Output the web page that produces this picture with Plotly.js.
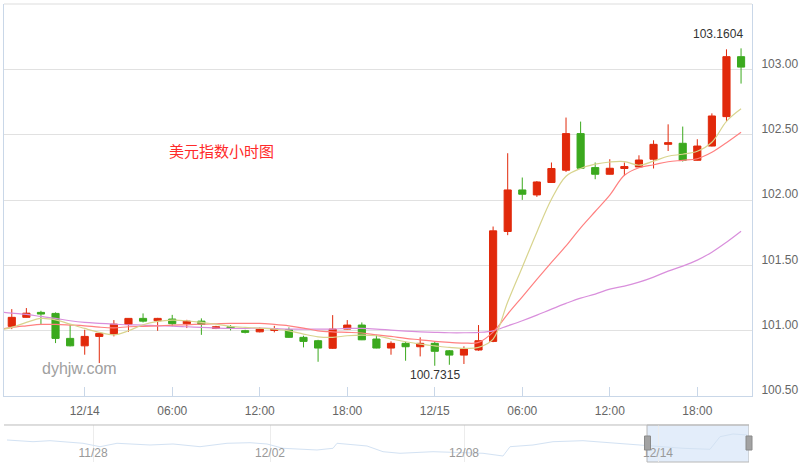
<!DOCTYPE html>
<html>
<head>
<meta charset="utf-8">
<script src="https://cdn.plot.ly/plotly-3.0.1.min.js"></script>
<style>
html,body{margin:0;padding:0;background:#fff;}
#chart{width:800px;height:466px;}
</style>
</head>
<body>
<div id="chart"></div>
<script>
// hourly timestamps (first one only feeds the moving-average lines at the left edge)
const times = [
 '2016-12-13 18:00','2016-12-13 19:00','2016-12-13 20:00','2016-12-13 21:00','2016-12-13 22:00','2016-12-13 23:00',
 '2016-12-14 00:00','2016-12-14 01:00','2016-12-14 02:00','2016-12-14 03:00','2016-12-14 04:00','2016-12-14 05:00',
 '2016-12-14 06:00','2016-12-14 07:00','2016-12-14 08:00','2016-12-14 09:00','2016-12-14 10:00','2016-12-14 11:00',
 '2016-12-14 12:00','2016-12-14 13:00','2016-12-14 14:00','2016-12-14 15:00','2016-12-14 16:00','2016-12-14 17:00',
 '2016-12-14 18:00','2016-12-14 19:00','2016-12-14 20:00','2016-12-14 21:00','2016-12-14 22:00','2016-12-14 23:00',
 '2016-12-15 00:00','2016-12-15 01:00','2016-12-15 02:00','2016-12-15 03:00','2016-12-15 04:00','2016-12-15 05:00',
 '2016-12-15 06:00','2016-12-15 07:00','2016-12-15 08:00','2016-12-15 09:00','2016-12-15 10:00','2016-12-15 11:00',
 '2016-12-15 12:00','2016-12-15 13:00','2016-12-15 14:00','2016-12-15 15:00','2016-12-15 16:00','2016-12-15 17:00',
 '2016-12-15 18:00','2016-12-15 19:00','2016-12-15 20:00','2016-12-15 21:00'
];
const candleTimes = times.slice(1);

const openV = [101.033,101.102,101.140,101.132,100.941,100.884,100.956,100.974,101.048,101.094,101.076,101.089,101.053,101.073,101.017,101.030,101.000,100.991,101.002,101.007,100.949,100.923,100.865,101.012,101.043,100.936,100.867,100.903,100.877,100.903,100.846,100.813,100.852,100.918,101.759,102.077,102.039,102.134,102.228,102.508,102.248,102.197,102.241,102.253,102.312,102.426,102.434,102.304,102.413,102.638,103.097];
const highV = [101.165,101.173,101.152,101.140,101.050,101.007,100.982,101.081,101.096,101.132,101.098,101.121,101.083,101.094,101.037,101.043,101.007,101.025,101.037,101.025,100.961,100.930,101.119,101.081,101.063,100.968,100.918,100.915,100.949,100.918,100.852,100.880,101.043,101.797,102.358,102.172,102.145,102.287,102.631,102.600,102.287,102.312,102.287,102.342,102.457,102.579,102.562,102.465,102.663,103.153,103.1604];
const lowV = [101.012,101.100,101.043,100.905,100.880,100.816,100.752,100.956,100.991,101.063,100.999,101.033,101.020,100.968,101.012,101.002,100.979,100.987,100.987,100.945,100.872,100.762,100.860,101.010,100.928,100.865,100.816,100.770,100.803,100.7315,100.739,100.745,100.846,100.912,101.731,102.001,102.024,102.130,102.215,102.240,102.159,102.195,102.184,102.250,102.241,102.375,102.294,102.302,102.410,102.605,102.891];
const closeV = [101.102,101.134,101.127,100.941,100.884,100.956,100.979,101.050,101.094,101.073,101.094,101.053,101.073,101.048,101.030,101.017,100.987,101.012,101.012,100.949,100.918,100.867,101.012,101.043,100.930,100.867,100.903,100.877,100.903,100.842,100.813,100.859,100.923,101.764,102.077,102.044,102.138,102.241,102.508,102.243,102.197,102.243,102.256,102.306,102.426,102.439,102.304,102.413,102.643,103.097,103.017];

// moving-average lines
const maYellow = [101.001,101.025,101.063,101.094,101.083,101.050,101.017,100.987,100.968,100.999,101.045,101.071,101.081,101.076,101.063,101.050,101.033,101.025,101.020,101.012,100.999,100.974,100.953,100.949,100.961,100.966,100.961,100.936,100.915,100.897,100.884,100.872,100.865,100.872,100.936,101.219,101.486,101.754,102.006,102.182,102.241,102.274,102.291,102.294,102.266,102.297,102.335,102.350,102.373,102.442,102.602,102.698];
const maRed = [101.008,101.025,101.037,101.048,101.048,101.043,101.037,101.027,101.022,101.030,101.033,101.037,101.043,101.045,101.050,101.053,101.056,101.056,101.056,101.048,101.037,101.020,100.999,100.991,100.987,100.982,100.968,100.956,100.941,100.930,100.918,100.910,100.905,100.910,100.989,101.127,101.259,101.392,101.522,101.649,101.787,101.912,102.037,102.189,102.247,102.270,102.293,102.304,102.316,102.365,102.438,102.518];
const maPurple = [101.146,101.134,101.124,101.109,101.094,101.076,101.063,101.056,101.050,101.045,101.043,101.037,101.035,101.030,101.025,101.020,101.017,101.017,101.020,101.016,101.012,101.012,101.012,101.012,101.017,101.017,101.012,101.004,100.997,100.991,100.987,100.984,100.984,100.987,100.999,101.037,101.076,101.119,101.165,101.209,101.249,101.280,101.318,101.341,101.371,101.410,101.456,101.494,101.540,101.601,101.677,101.761];

// tick labels
const xTickVals = ['2016-12-14 00:00','2016-12-14 06:00','2016-12-14 12:00','2016-12-14 18:00','2016-12-15 00:00','2016-12-15 06:00','2016-12-15 12:00','2016-12-15 18:00'];
const xTickText = ['12/14','06:00','12:00','18:00','12/15','06:00','12:00','18:00'];
const yTickVals = [100.5,101.0,101.5,102.0,102.5,103.0];

// navigator (trading-hour index) series
const navHours = [1.5,14.5,23,39.5,48,56.5,73,84.5,98,111.5,123,131.5,139.5,156.5,164.5,166.5,181.5,189.5,198,214.5,239.5,249.5,253,264.5,274.5,289.5,306.5,323,339.5,353,358,364.5,371.5];
const navValues = [102.26,102.005,102.155,101.765,101.255,101.765,101.51,101.66,101.255,101.765,101.855,101.66,101.015,100.76,101.015,101.765,101.36,100.505,100.265,100.505,100.265,99.86,101.255,101.51,102.005,102.155,101.765,101.36,101.015,100.865,102.755,103.16,103.01];
const navTickVals = [44.5,133,230,327];
const navTickText = ['11/28','12/02','12/08','12/14'];
const navSelection = [321.5,372.5];

const font = 'Liberation Sans, Arial, sans-serif';

let iMax = 0, iMin = 0;
highV.forEach((v,i)=>{ if (v > highV[iMax]) iMax = i; });
lowV.forEach((v,i)=>{ if (v < lowV[iMin]) iMin = i; });

const traces = [
  {type:'scatter', mode:'lines', x:times, y:maPurple, line:{color:'#d98fdc', width:1.2, shape:'spline'}, hoverinfo:'skip'},
  {type:'scatter', mode:'lines', x:times, y:maRed, line:{color:'#ff8080', width:1.2, shape:'spline'}, hoverinfo:'skip'},
  {type:'scatter', mode:'lines', x:times, y:maYellow, line:{color:'#d8d48e', width:1.2, shape:'spline'}, hoverinfo:'skip'},
  {type:'candlestick', x:candleTimes, open:openV, high:highV, low:lowV, close:closeV,
   increasing:{line:{color:'#e1290b', width:1}, fillcolor:'#e1290b'},
   decreasing:{line:{color:'#3ba91e', width:1}, fillcolor:'#3ba91e'},
   whiskerwidth:0, hoverinfo:'skip'},
  {type:'scatter', mode:'lines', x:navHours, y:navValues, xaxis:'x2', yaxis:'y2',
   line:{color:'#d3e2f3', width:1}, hoverinfo:'skip'}
];

const layout = {
  width:800, height:466,
  margin:{l:4, r:48, t:4, b:4},
  paper_bgcolor:'#ffffff', plot_bgcolor:'#ffffff',
  showlegend:false,
  font:{family:font, size:12, color:'#666'},
  xaxis:{
    type:'date', domain:[0,1], anchor:'y',
    range:['2016-12-13 18:28','2016-12-15 21:45'],
    rangeslider:{visible:false},
    tickmode:'array', tickvals:xTickVals, ticktext:xTickText,
    ticks:'inside', ticklen:9, tickcolor:'#c9d7e8', tickwidth:1,
    showline:true, linecolor:'#c9d7e8', linewidth:1,
    showgrid:false, zeroline:false,
    tickfont:{family:font, size:12, color:'#666'},
    ticklabelstandoff:4
  },
  yaxis:{
    domain:[0.1441,1], anchor:'x', side:'right',
    range:[100.5,103.5],
    tickmode:'array', tickvals:yTickVals, tickformat:'.2f',
    ticks:'', showline:true, mirror:true, linecolor:'#c9d7e8', linewidth:1,
    showgrid:true, gridcolor:'#e1e1e1', gridwidth:1, zeroline:false,
    tickfont:{family:font, size:12, color:'#666'},
    ticklabelstandoff:6, ticklabelshift:-6
  },
  xaxis2:{
    domain:[0,0.996], anchor:'y2', range:[0,372.5],
    tickmode:'array', tickvals:navTickVals, ticktext:navTickText,
    ticks:'', ticklabelposition:'inside',
    showgrid:true, gridcolor:'#ececec', zeroline:false, showline:false,
    tickfont:{family:font, size:12, color:'#999'}
  },
  yaxis2:{
    domain:[0,0.0808], anchor:'x2', range:[98.96,104.51],
    visible:false, showgrid:false, zeroline:false
  },
  shapes:[
    {type:'line', xref:'paper', yref:'paper', x0:0, x1:1, y0:1, y1:1, line:{color:'#dddddd', width:1}},
    {type:'line', xref:'paper', yref:'paper', x0:0, x1:0.996, y0:0.0808, y1:0.0808, line:{color:'#bbbbbb', width:1}},
    {type:'rect', xref:'x2', yref:'paper', x0:navSelection[0], x1:navSelection[1], y0:0, y1:0.0808,
     fillcolor:'rgba(200,220,245,0.5)', line:{color:'#b8b8b8', width:1}, layer:'below'},
    {type:'rect', xref:'paper', yref:'paper', x0:0.8563, x1:0.8643, y0:0.0262, y1:0.0568,
     fillcolor:'#a3a3a3', line:{color:'#8a8a8a', width:1}},
    {type:'rect', xref:'paper', yref:'paper', x0:0.992, x1:1.0, y0:0.0262, y1:0.0568,
     fillcolor:'#a3a3a3', line:{color:'#8a8a8a', width:1}}
  ],
  annotations:[
    {xref:'x', yref:'y', x:candleTimes[iMax], y:highV[iMax], text:highV[iMax].toFixed(4),
     showarrow:false, xanchor:'right', yanchor:'bottom', xshift:4, yshift:5,
     font:{family:font, size:12, color:'#333'}},
    {xref:'x', yref:'y', x:candleTimes[iMin], y:lowV[iMin], text:lowV[iMin].toFixed(4),
     showarrow:false, xanchor:'center', yanchor:'top', yshift:0,
     font:{family:font, size:12, color:'#333'}},
    {xref:'paper', yref:'paper', x:0.2914, y:0.6812, text:'美元指数小时图', showarrow:false,
     xanchor:'center', yanchor:'middle',
     font:{family:'Noto Sans CJK SC, sans-serif', size:15, color:'#ff2a2a'}},
    {xref:'paper', yref:'paper', x:0.1003, y:0.2052, text:'dyhjw.com', showarrow:false,
     xanchor:'center', yanchor:'middle',
     font:{family:font, size:16, color:'#a0a0a0'}}
  ]
};

Plotly.newPlot('chart', traces, layout, {displayModeBar:false, staticPlot:true});
</script>
</body>
</html>
